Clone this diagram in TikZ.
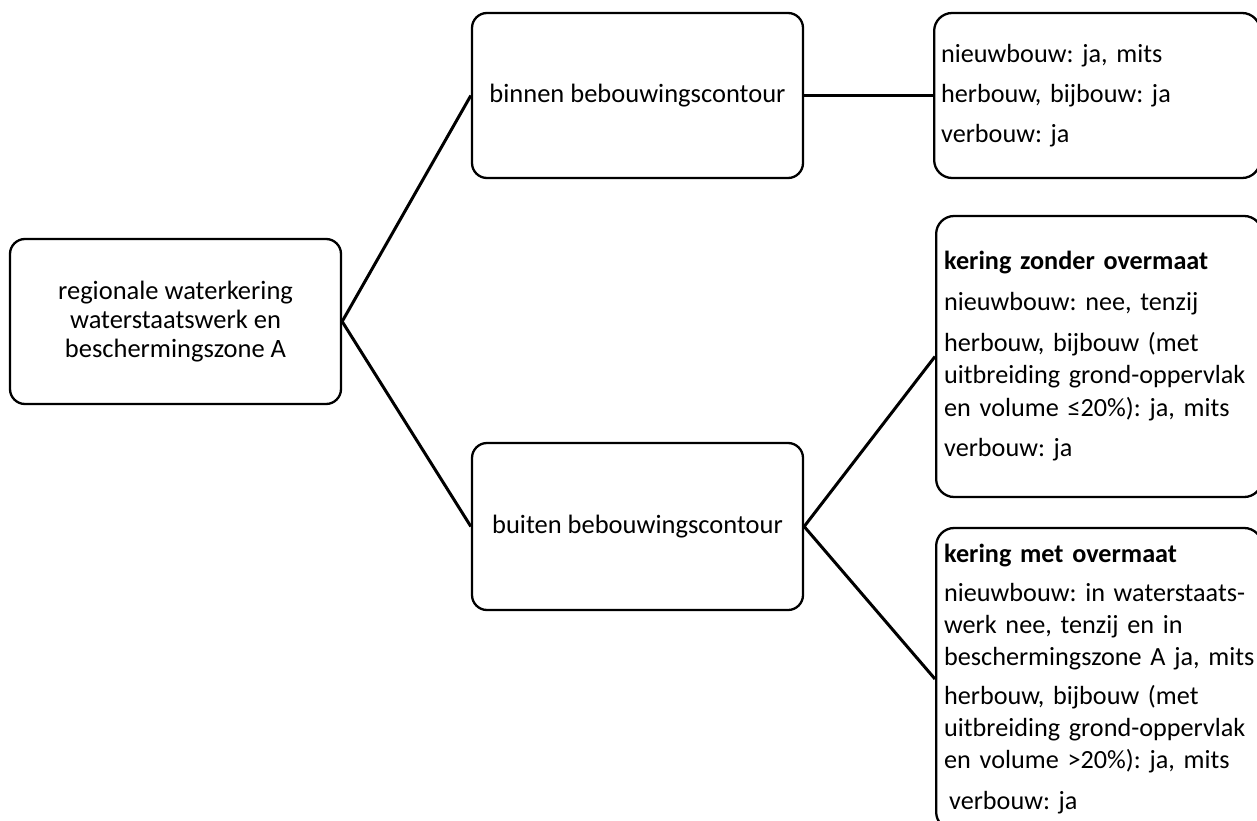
\documentclass[tikz,border=0pt]{standalone}
\usepackage{fontspec}
\setmainfont{Carlito}
\usetikzlibrary{positioning}
\frenchspacing

\begin{document}
\begin{tikzpicture}[x=1pt,y=-1pt,
    box/.style={rectangle,draw,line width=2.3pt,rounded corners=15pt,
      minimum width=331pt,minimum height=165pt,align=center,
      font=\fontsize{26.5}{29}\selectfont},
    rulebox/.style={rectangle,draw,line width=2.3pt,rounded corners=18pt,
      anchor=west,inner xsep=7pt,text width=312pt,align=left,
      font=\fontsize{26.2}{32.3}\selectfont},
    link/.style={line width=3pt}]
  \useasboundingbox (0,0) rectangle (1257,821);
  \clip (0,0) rectangle (1257,821);
     \node[box] (kering) at (175.5,321.5) {regionale waterkering\\
       waterstaatswerk en\\ beschermingszone A};
     \node[box] (binnen) at (637.5,95.5) {binnen bebouwingscontour};
     \node[box,minimum height=167pt] (buiten) at (637.5,526.5)
     {buiten bebouwingscontour};
     \node[rulebox,minimum height=165pt] (regels)
     at (933,95.5) {nieuwbouw: ja, mits\\[7.7pt]
       herbouw, bijbouw: ja\\[7.7pt] verbouw: ja};
     \node[rulebox,minimum height=281pt,inner xsep=8pt,text width=310pt]
     (zonder) at (935,356.5)
     {\textbf{kering zonder overmaat}\\[8.5pt]
       nieuwbouw: nee, tenzij\\[8.5pt]
       herbouw, bijbouw (met\\ uitbreiding grond-oppervlak\\
       en volume ≤20\%): ja, mits\\[8.5pt] verbouw: ja};
     \node[rulebox,minimum height=302pt,inner xsep=8pt,text width=310pt]
     (met) at (935,679)
     {\textbf{kering met overmaat}\\[6pt]
       nieuwbouw: in waterstaats-\\ werk nee, tenzij en in\\
       \mbox{beschermingszone A ja, mits}\\[6pt]
       herbouw, bijbouw (met\\ uitbreiding grond-oppervlak\\
       en volume >20\%): ja, mits\\[8pt] \hspace{5pt}verbouw: ja};
     \draw[link] (kering.east) -- (binnen.west);
     \draw[link] (kering.east) -- (buiten.west);
     \draw[line width=2.3pt] (binnen.east) -- (regels.west);
     \draw[link] (buiten.east) -- (zonder.west);
     \draw[link] (buiten.east) -- (met.west);
   \end{tikzpicture}
\end{document}
